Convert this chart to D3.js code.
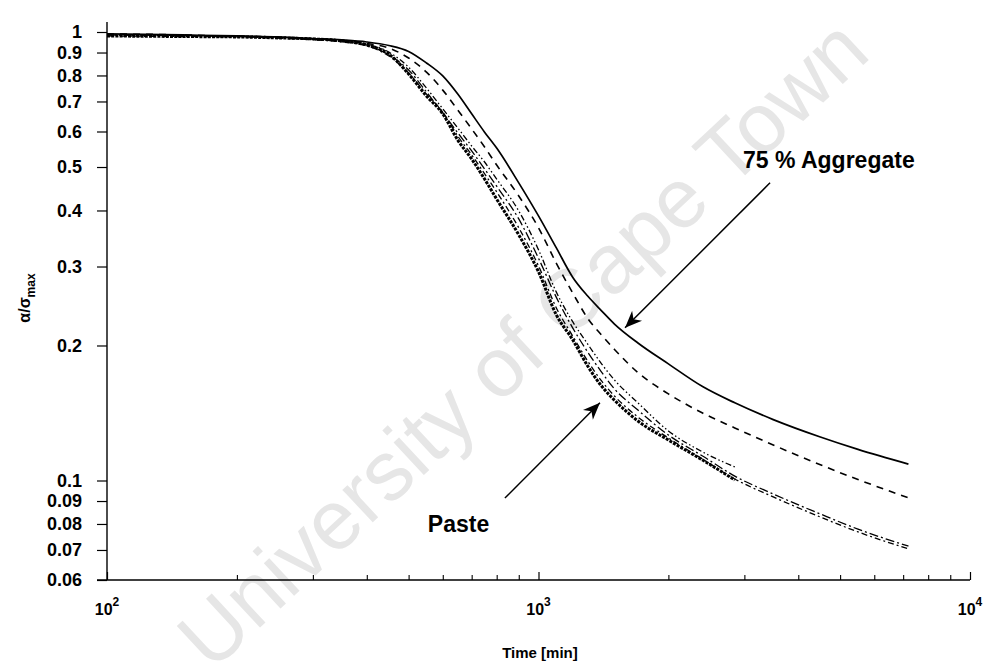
<!DOCTYPE html>
<html>
<head>
<meta charset="utf-8">
<script src="https://cdn.jsdelivr.net/npm/d3@7/dist/d3.min.js"></script>
<style>
  html, body { margin: 0; padding: 0; background: #fff; }
  svg { display: block; }
  text { font-family: "Liberation Sans", Arial, Helvetica, sans-serif; }
</style>
</head>
<body>
<svg id="chart" width="985" height="667"></svg>
<script>
// ---------------- data ----------------
const timeLong = [100,150,200,250,300,350,400,450,500,550,600,650,700,750,800,900,1000,1100,1200,1300,1400,1500,1700,2000,2400,2850,3500,4500,5500,7200];
const timeShort = timeLong.slice(0, 26); // up to 2850 min

const aggregate75 = [0.990,0.985,0.980,0.975,0.967,0.960,0.950,0.933,0.905,0.853,0.798,0.727,0.657,0.598,0.551,0.461,0.389,0.330,0.284,0.2578,0.239,0.2233,0.2026,0.182,0.162,0.149,0.1367,0.125,0.1173,0.1088];
const dashedSeries = [0.990,0.985,0.977,0.970,0.962,0.955,0.943,0.921,0.875,0.814,0.742,0.670,0.608,0.554,0.505,0.431,0.366,0.305,0.262,0.230,0.211,0.196,0.174,0.156,0.1414,0.131,0.120,0.1084,0.1005,0.0915];
const dashDotA = [0.985,0.982,0.977,0.972,0.965,0.955,0.935,0.889,0.823,0.735,0.660,0.596,0.543,0.495,0.453,0.383,0.313,0.256,0.219,0.1934,0.1745,0.160,0.1436,0.1263,0.1134,0.1023,0.0933,0.0842,0.0779,0.0714];
const dashDotB = [0.980,0.977,0.975,0.970,0.962,0.950,0.931,0.884,0.810,0.727,0.663,0.586,0.532,0.483,0.440,0.366,0.301,0.2425,0.210,0.1847,0.1667,0.1543,0.1385,0.1244,0.1116,0.1008,0.0919,0.0829,0.0768,0.0704];
const dashDotDotC = [0.985,0.982,0.980,0.975,0.967,0.960,0.940,0.902,0.835,0.750,0.674,0.611,0.557,0.513,0.470,0.399,0.327,0.263,0.226,0.2015,0.182,0.1675,0.149,0.129,0.1158,0.1072];
const paste = [0.980,0.977,0.975,0.970,0.965,0.955,0.935,0.893,0.806,0.720,0.657,0.574,0.521,0.470,0.424,0.353,0.292,0.234,0.206,0.180,0.1624,0.151,0.1357,0.1231,0.1111,0.1003];

const yTickValues = [1,0.9,0.8,0.7,0.6,0.5,0.4,0.3,0.2,0.1,0.09,0.08,0.07,0.06];
const yTickLabels = ["1","0.9","0.8","0.7","0.6","0.5","0.4","0.3","0.2","0.1","0.09","0.08","0.07","0.06"];
const xMajorTicks = [100,1000,10000];
const xMajorExponents = ["2","3","4"];

// annotations: label, text anchor (t,v), arrow tail (t,v), arrow tip (t,v)
const annotationLabels = ["75 % Aggregate","Paste"];
const annotationTextAt = [[2978,0.497],[554,0.0768]];
const annotationTail = [[3440,0.461],[836,0.0914]];
const annotationTip = [[1587,0.219],[1388,0.149]];

// ---------------- chart ----------------
const svg = d3.select("#chart");
const x = d3.scaleLog().domain([100, 10000]).range([107, 970]);
const y = d3.scaleLog().domain([0.06, 1]).range([580, 32]);

// watermark
svg.append("text")
  .attr("transform", "translate(522,343) rotate(-43)")
  .attr("text-anchor", "middle")
  .attr("dy", "0.35em")
  .attr("font-size", 84)
  .attr("fill", "#e6e6e6")
  .text("University of Cape Town");

// axes
const yAxis = d3.axisLeft(y)
  .tickValues(yTickValues)
  .tickFormat((d, i) => yTickLabels[i])
  .tickSize(10)
  .tickPadding(15);
const gy = svg.append("g").attr("transform", "translate(107,0)").call(yAxis);
gy.select(".domain").remove();
gy.selectAll(".tick line").attr("stroke", "#000").attr("stroke-width", 1.2);
gy.selectAll(".tick text")
  .attr("font-family", "'Liberation Sans', Arial, sans-serif")
  .attr("font-size", 18).attr("font-weight", "bold").attr("fill", "#000");
svg.append("line")
  .attr("x1", 107).attr("x2", 107)
  .attr("y1", y(1) - 10).attr("y2", y(0.06))
  .attr("stroke", "#000").attr("stroke-width", 1.4);

const xMinor = [];
[100, 1000].forEach(b => { for (let k = 2; k <= 9; k++) xMinor.push(b * k); });
const xAxisMinor = d3.axisBottom(x).tickValues(xMinor).tickSize(-5).tickFormat("");
const gxm = svg.append("g").attr("transform", "translate(0,580)").call(xAxisMinor);
gxm.select(".domain").remove();
gxm.selectAll(".tick line").attr("stroke", "#000").attr("stroke-width", 1.1);
const xAxisMajor = d3.axisBottom(x).tickValues(xMajorTicks).tickSize(-8).tickFormat("");
const gxM = svg.append("g").attr("transform", "translate(0,580)").call(xAxisMajor);
gxM.select(".domain").remove();
gxM.selectAll(".tick line").attr("stroke", "#000").attr("stroke-width", 1.2);
svg.append("line")
  .attr("x1", x(100) - 10).attr("x2", x(10000))
  .attr("y1", 580).attr("y2", 580)
  .attr("stroke", "#000").attr("stroke-width", 1.4);

const xl = svg.append("g").selectAll("text").data(xMajorTicks).join("text")
  .attr("x", d => x(d)).attr("y", 615)
  .attr("text-anchor", "middle")
  .attr("font-size", 16).attr("font-weight", "bold");
xl.append("tspan").text("10");
xl.append("tspan").attr("dy", -9).attr("font-size", 12).text((d, i) => xMajorExponents[i]);

svg.append("text")
  .attr("x", 540).attr("y", 658)
  .attr("text-anchor", "middle")
  .attr("font-size", 15).attr("font-weight", "bold")
  .text("Time [min]");

const yt = svg.append("text")
  .attr("transform", "translate(30,298) rotate(-90)")
  .attr("text-anchor", "middle")
  .attr("font-size", 16).attr("font-weight", "bold");
yt.append("tspan").text("α/σ");
yt.append("tspan").attr("dy", 5).attr("font-size", 12).text("max");

// curves
const line = d3.line()
  .x(d => x(d[0])).y(d => y(d[1]))
  .curve(d3.curveMonotoneX);

const series = [
  { t: timeLong, v: dashDotA, w: 1.3, dash: "9,3,2,3" },
  { t: timeLong, v: dashDotB, w: 1.3, dash: "6,3,2,3" },
  { t: timeShort, v: dashDotDotC, w: 1.3, dash: "6,2.5,1.5,2.5,1.5,2.5" },
  { t: timeShort, v: paste, w: 3, dash: "3,1.2" },
  { t: timeLong, v: dashedSeries, w: 1.6, dash: "7,6" },
  { t: timeLong, v: aggregate75, w: 1.7, dash: null }
];

svg.append("g").selectAll("path").data(series).join("path")
  .attr("d", s => line(s.t.map((t, i) => [t, s.v[i]])))
  .attr("fill", "none")
  .attr("stroke", "#000")
  .attr("stroke-width", s => s.w)
  .attr("stroke-dasharray", s => s.dash);

// annotations
svg.append("defs").append("marker")
  .attr("id", "arrow")
  .attr("viewBox", "-20 -10 24 20")
  .attr("refX", 0).attr("refY", 0)
  .attr("markerWidth", 24).attr("markerHeight", 20)
  .attr("markerUnits", "userSpaceOnUse")
  .attr("orient", "auto")
  .append("path")
  .attr("d", "M0,0 L-17,-7 L-12,0 L-17,7 Z")
  .attr("fill", "#000");

annotationLabels.forEach((lab, i) => {
  svg.append("line")
    .attr("x1", x(annotationTail[i][0])).attr("y1", y(annotationTail[i][1]))
    .attr("x2", x(annotationTip[i][0])).attr("y2", y(annotationTip[i][1]))
    .attr("stroke", "#000").attr("stroke-width", 1.5)
    .attr("marker-end", "url(#arrow)");
  svg.append("text")
    .attr("x", x(annotationTextAt[i][0])).attr("y", y(annotationTextAt[i][1]))
    .attr("font-size", 23).attr("font-weight", "bold")
    .text(lab);
});
</script>
</body>
</html>
